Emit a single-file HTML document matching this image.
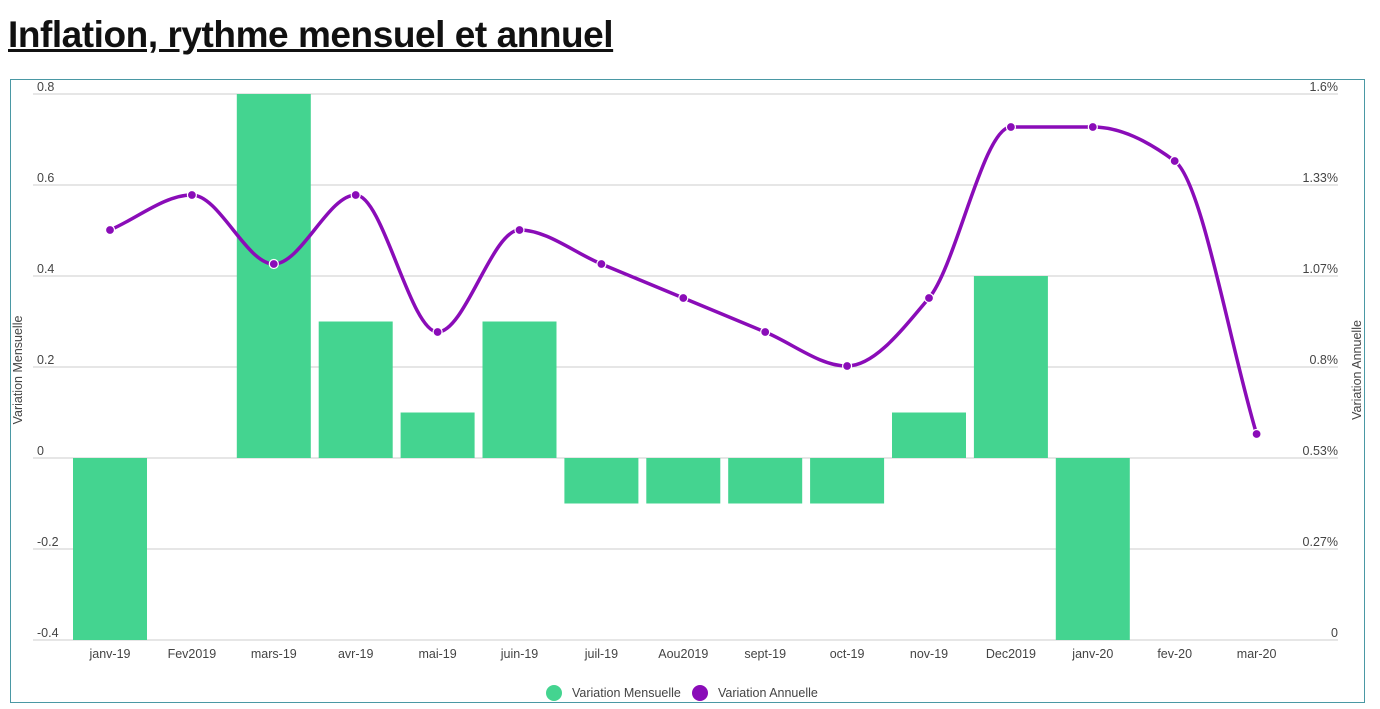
<!DOCTYPE html>
<html><head><meta charset="utf-8"><style>
body{margin:0;background:#fff;width:1380px;height:709px;overflow:hidden;font-family:"Liberation Sans",sans-serif}
h1{position:absolute;left:8px;top:14px;margin:0;font-size:37px;font-weight:bold;text-decoration:underline;color:#111;letter-spacing:-0.45px;font-family:"Liberation Sans",sans-serif}
svg{position:absolute;left:0;top:0}
text{font-family:"Liberation Sans",sans-serif;font-size:12.5px;fill:#444}
</style></head><body>
<h1>Inflation, rythme mensuel et annuel</h1>
<svg width="1380" height="709" id="s">
<rect x="10.5" y="79.5" width="1354" height="623" fill="none" stroke="#4a98a4" stroke-width="1"/>
<g id="g"></g>
</svg>
<script>
var g=document.getElementById('g'),h='';
var ys=[94,185,276,367,458,549,640],ll=['0.8','0.6','0.4','0.2','0','-0.2','-0.4'],rl=['1.6%','1.33%','1.07%','0.8%','0.53%','0.27%','0'];
for(var i=0;i<7;i++){h+='<line x1="33" x2="1338" y1="'+ys[i]+'" y2="'+ys[i]+'" stroke="#ccc"/>';
h+='<text x="37" y="'+(ys[i]-3)+'">'+ll[i]+'</text><text x="1338" y="'+(ys[i]-3)+'" text-anchor="end">'+rl[i]+'</text>';}
var cats=['janv-19','Fev2019','mars-19','avr-19','mai-19','juin-19','juil-19','Aou2019','sept-19','oct-19','nov-19','Dec2019','janv-20','fev-20','mar-20'];
var m=[-0.4,0,0.8,0.3,0.1,0.3,-0.1,-0.1,-0.1,-0.1,0.1,0.4,-0.4,0,0];
var a=[230,195,264,195,332,230,264,298,332,366,298,127,127,161,434];
function cx(i){return 110+i*81.9}
for(var i=0;i<15;i++){var y=458-m[i]*455;var t=Math.min(y,458),hh=Math.abs(y-458);
if(hh>0)h+='<rect x="'+(cx(i)-37)+'" y="'+t+'" width="74" height="'+hh+'" fill="#44d490"/>';
h+='<text x="'+cx(i)+'" y="658" text-anchor="middle">'+cats[i]+'</text>';}
var n=15,d=[],s=[];var dx=81.9;
for(var i=0;i<n-1;i++)d.push((a[i+1]-a[i])/dx);
s[0]=d[0];s[n-1]=d[n-2];
for(var i=1;i<n-1;i++){if(d[i-1]*d[i]<=0)s[i]=0;else s[i]=2/(1/d[i-1]+1/d[i]);}
var p='M'+cx(0)+','+a[0];
for(var i=0;i<n-1;i++){var k=dx/3;
p+=' C'+(cx(i)+k)+','+(a[i]+s[i]*k)+' '+(cx(i+1)-k)+','+(a[i+1]-s[i+1]*k)+' '+cx(i+1)+','+a[i+1];}
h+='<path d="'+p+'" fill="none" stroke="#8a0cb8" stroke-width="3.5"/>';
for(var i=0;i<15;i++)h+='<circle cx="'+cx(i)+'" cy="'+a[i]+'" r="4.5" fill="#8a0cb8" stroke="#fff" stroke-width="1.2"/>';
h+='<text transform="translate(22,370) rotate(-90)" text-anchor="middle">Variation Mensuelle</text>';
h+='<text transform="translate(1361,370) rotate(-90)" text-anchor="middle">Variation Annuelle</text>';
h+='<circle cx="554" cy="693" r="8" fill="#44d490"/><text x="572" y="697">Variation Mensuelle</text>';
h+='<circle cx="700" cy="693" r="8" fill="#8a0cb8"/><text x="718" y="697">Variation Annuelle</text>';
g.innerHTML=h;
</script>
</body></html>
